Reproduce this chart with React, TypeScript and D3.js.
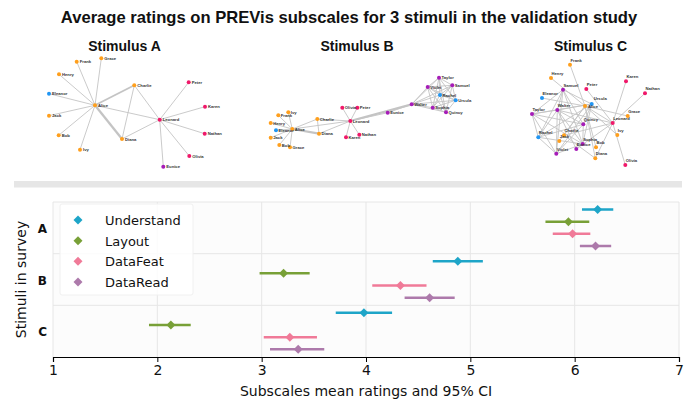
import React, { useRef, useEffect } from 'react';
import * as d3 from 'd3';

// ---- ratings ----
const stimuli = ['A', 'B', 'C'];
const subscales = ['Understand', 'Layout', 'DataFeat', 'DataRead'];
const xTicks = [1, 2, 3, 4, 5, 6, 7];

const understandMean = [6.22, 4.88, 3.98];
const understandLow = [6.07, 4.64, 3.71];
const understandHigh = [6.37, 5.12, 4.25];

const layoutMean = [5.94, 3.21, 2.13];
const layoutLow = [5.72, 2.98, 1.92];
const layoutHigh = [6.14, 3.46, 2.32];

const dataFeatMean = [5.98, 4.33, 3.27];
const dataFeatLow = [5.79, 4.06, 3.02];
const dataFeatHigh = [6.15, 4.58, 3.53];

const dataReadMean = [6.2, 4.61, 3.35];
const dataReadLow = [6.05, 4.37, 3.08];
const dataReadHigh = [6.35, 4.85, 3.6];

const subscaleColors = ['#1ea5c8', '#78a037', '#f07a98', '#ad7aab'];

// ---- the three stimulus networks: [name, layoutX, layoutY, group] ----
type NetNode = [string, number, number, string];
type NetEdge = [string, string, number];

const netANodes: NetNode[] = [
  ['Frank', 46.7, 11.7, 'o'], ['Grace', 71.3, 8.3, 'o'], ['Henry', 29, 24.3, 'o'],
  ['Eleanor', 19, 43.7, 'b'], ['Alice', 65, 55.3, 'o'], ['Jack', 19, 65.7, 'o'],
  ['Bob', 28.7, 85.3, 'o'], ['Ivy', 50, 99.7, 'o'], ['Charlie', 104.3, 35.3, 'o'],
  ['Diana', 92, 89, 'o'], ['Leonard', 129.7, 69.7, 'p'], ['Peter', 158.7, 32.3, 'p'],
  ['Karen', 175, 56.7, 'p'], ['Nathan', 174.7, 83.7, 'p'], ['Olivia', 159.3, 106, 'p'],
  ['Eunice', 133.3, 116.7, 'v'],
];
const netAEdges: NetEdge[] = [
  ['Alice', 'Frank', 1], ['Alice', 'Grace', 1], ['Alice', 'Henry', 1], ['Alice', 'Eleanor', 1],
  ['Alice', 'Jack', 1], ['Alice', 'Bob', 1], ['Alice', 'Ivy', 1], ['Alice', 'Charlie', 2],
  ['Alice', 'Diana', 2.5], ['Alice', 'Leonard', 1], ['Charlie', 'Diana', 1],
  ['Charlie', 'Leonard', 1], ['Diana', 'Leonard', 1], ['Leonard', 'Peter', 1],
  ['Leonard', 'Karen', 1], ['Leonard', 'Nathan', 1], ['Leonard', 'Olivia', 1],
  ['Leonard', 'Eunice', 1],
];

const netBNodes: NetNode[] = [
  ['Ivy', 28.3, 42.3, 'o'], ['Frank', 18.3, 45.3, 'o'], ['Henry', 10.7, 53, 'o'],
  ['Eleanor', 16, 60.3, 'b'], ['Alice', 32.3, 59, 'o'], ['Jack', 10.7, 67.7, 'o'],
  ['Bob', 19.3, 75, 'o'], ['Grace', 30, 77.3, 'o'], ['Charlie', 57.3, 49, 'o'],
  ['Diana', 59, 63.7, 'o'], ['Leonard', 90.3, 51, 'p'], ['Olivia', 82.3, 37.7, 'p'],
  ['Peter', 97.3, 37.7, 'p'], ['Karen', 86, 67.3, 'p'], ['Nathan', 99.3, 64.7, 'p'],
  ['Eunice', 127.7, 42.7, 'v'], ['Walter', 151.7, 34.3, 'v'], ['Taylor', 179, 7.7, 'v'],
  ['Violet', 167.7, 17, 'v'], ['Samuel', 192.3, 15.3, 'v'], ['Rachel', 180, 25, 'b'],
  ['Ursula', 195.7, 30.3, 'b'], ['Sophia', 172.7, 37.7, 'v'], ['Quincy', 186, 42.3, 'v'],
];
const clusterMembers = ['Walter', 'Taylor', 'Violet', 'Samuel', 'Rachel', 'Ursula', 'Sophia', 'Quincy'];
const netBEdges: NetEdge[] = [
  ['Alice', 'Ivy', 1], ['Alice', 'Frank', 1], ['Alice', 'Henry', 1], ['Alice', 'Eleanor', 1],
  ['Alice', 'Jack', 1], ['Alice', 'Bob', 1], ['Alice', 'Grace', 1], ['Alice', 'Charlie', 1],
  ['Alice', 'Diana', 2.5], ['Alice', 'Leonard', 1], ['Charlie', 'Diana', 1],
  ['Charlie', 'Leonard', 1], ['Diana', 'Leonard', 1], ['Leonard', 'Olivia', 1],
  ['Leonard', 'Peter', 1], ['Leonard', 'Karen', 1], ['Leonard', 'Nathan', 1],
  ['Leonard', 'Walter', 2.5], ['Leonard', 'Eunice', 1], ['Eunice', 'Walter', 1],
  ...clusterMembers.flatMap((a, i) => clusterMembers.slice(i + 1).map((b) => [a, b, 1] as NetEdge)),
];

const netCNodes: NetNode[] = [
  ['Frank', 45, 9.7, 'o'], ['Henry', 26, 23, 'o'], ['Samuel', 38, 34.7, 'v'],
  ['Peter', 61.3, 34, 'p'], ['Eleanor', 17, 43, 'b'], ['Ursula', 66.7, 49, 'b'],
  ['Alice', 60, 51, 'o'], ['Walter', 32.3, 55, 'v'], ['Taylor', 7, 59, 'v'],
  ['Karen', 101, 26.3, 'p'], ['Nathan', 120, 38.3, 'p'], ['Grace', 102.7, 61, 'o'],
  ['Leonard', 87.7, 68, 'p'], ['Quincy', 58.3, 69.3, 'v'], ['Ivy', 92.3, 80, 'o'],
  ['Rachel', 13.3, 82.3, 'b'], ['Charlie', 39, 80.3, 'o'], ['Jack', 34.3, 86, 'o'],
  ['Sophia', 57.7, 89, 'v'], ['Eunice', 51.3, 94, 'v'], ['Bob', 71, 92.3, 'o'],
  ['Violet', 31.3, 98.7, 'v'], ['Diana', 70.3, 103.3, 'o'], ['Olivia', 100.3, 110, 'p'],
];
const netCEdges: NetEdge[] = netBEdges.map(([a, b]) => [a, b, 1] as NetEdge);

const groupColors: Record<string, string> = {
  o: '#ff9f1c', p: '#f0186a', v: '#a61cb8', b: '#2196f3',
};

const App: React.FC = () => {
  const svgRef = useRef<SVGSVGElement | null>(null);

  useEffect(() => {
    const svg = d3.select(svgRef.current!);
    svg.selectAll('*').remove();

    const W = 700;
    const H = 400;
    svg.attr('width', W).attr('height', H);

    svg.append('rect').attr('width', W).attr('height', H).attr('fill', '#fff');

    svg.append('text')
      .attr('x', 349).attr('y', 23)
      .attr('text-anchor', 'middle')
      .attr('font-family', 'Liberation Sans, Arial, sans-serif')
      .attr('font-weight', 'bold')
      .attr('font-size', 16.6)
      .attr('fill', '#111')
      .text('Average ratings on PREVis subscales for 3 stimuli in the validation study');

    // ---- networks ----
    // label offsets; a few crowded labels in C get their own
    const labelShift: Record<string, [number, number]> = { Ursula: [2, -4.5], Alice: [3, 2] };
    const networks = [
      { title: 'Stimulus A', cx: 124.5, ox: 30, oy: 50, nodes: netANodes, edges: netAEdges, ldx: 3, ldy: 1.5, shift: {} },
      { title: 'Stimulus B', cx: 357, ox: 260, oy: 70, nodes: netBNodes, edges: netBEdges, ldx: 2.5, ldy: 1.5, shift: {} },
      { title: 'Stimulus C', cx: 590.5, ox: 525, oy: 55, nodes: netCNodes, edges: netCEdges, ldx: 0.5, ldy: -3, shift: labelShift },
    ];

    networks.forEach((net) => {
      svg.append('text')
        .attr('x', net.cx).attr('y', 50.5)
        .attr('text-anchor', 'middle')
        .attr('font-family', 'Liberation Sans, Arial, sans-serif')
        .attr('font-weight', 'bold')
        .attr('font-size', 14)
        .attr('fill', '#111')
        .text(net.title);

      const nx = d3.scaleLinear().domain([0, 200]).range([net.ox, net.ox + 200]);
      const ny = d3.scaleLinear().domain([0, 120]).range([net.oy, net.oy + 120]);
      const byName = new Map(net.nodes.map((n) => [n[0], n]));
      const shift = net.shift as Record<string, [number, number]>;
      const g = svg.append('g');

      g.selectAll('line')
        .data(net.edges)
        .join('line')
        .attr('x1', (d) => nx(byName.get(d[0])![1]))
        .attr('y1', (d) => ny(byName.get(d[0])![2]))
        .attr('x2', (d) => nx(byName.get(d[1])![1]))
        .attr('y2', (d) => ny(byName.get(d[1])![2]))
        .attr('stroke', '#c4c4c4')
        .attr('stroke-width', (d) => d[2] * 0.9);

      g.selectAll('circle')
        .data(net.nodes)
        .join('circle')
        .attr('cx', (d) => nx(d[1]))
        .attr('cy', (d) => ny(d[2]))
        .attr('r', 2)
        .attr('fill', (d) => groupColors[d[3]]);

      g.selectAll('text')
        .data(net.nodes)
        .join('text')
        .attr('x', (d) => nx(d[1]) + (shift[d[0]] ? shift[d[0]][0] : net.ldx))
        .attr('y', (d) => ny(d[2]) + (shift[d[0]] ? shift[d[0]][1] : net.ldy))
        .attr('font-family', 'Liberation Sans, Arial, sans-serif')
        .attr('font-weight', 'bold')
        .attr('font-size', 4.2)
        .attr('fill', '#333')
        .text((d) => d[0]);
    });

    // separator band
    svg.append('rect')
      .attr('x', 14).attr('y', 181).attr('width', 668).attr('height', 6.5)
      .attr('fill', '#e6e6e6');

    // ---- dot plot ----
    const left = 53;
    const right = 679;
    const top = 202;
    const bottom = 357;

    const x = d3.scaleLinear().domain([1, 7]).range([left, right]);
    const y = d3.scaleBand<string>().domain(stimuli).range([top, bottom]);
    const yInner = d3.scalePoint<string>().domain(subscales).range([7.5, 44]);

    svg.append('rect')
      .attr('x', left).attr('y', top).attr('width', right - left).attr('height', bottom - top)
      .attr('fill', '#fcfcfc');

    svg.append('g')
      .selectAll('line')
      .data(xTicks)
      .join('line')
      .attr('x1', (d) => x(d)).attr('x2', (d) => x(d))
      .attr('y1', top).attr('y2', bottom)
      .attr('stroke', '#e6e6e6').attr('stroke-width', 1);

    svg.append('g')
      .selectAll('line')
      .data(stimuli)
      .join('line')
      .attr('x1', left).attr('x2', right)
      .attr('y1', (d) => y(d)!).attr('y2', (d) => y(d)!)
      .attr('stroke', '#e6e6e6').attr('stroke-width', 1);

    const xAxis = svg.append('g')
      .attr('transform', `translate(0,${bottom})`)
      .call(d3.axisBottom(x).tickValues(xTicks).tickFormat(d3.format('d')).tickSize(5).tickPadding(3));
    xAxis.select('.domain').attr('stroke', '#000').attr('stroke-width', 1.2);
    xAxis.selectAll('.tick line').attr('stroke', '#000');
    xAxis.selectAll('.tick text')
      .attr('font-family', 'DejaVu Sans, sans-serif')
      .attr('font-size', 14)
      .attr('fill', '#111');

    svg.append('g')
      .selectAll('text')
      .data(stimuli)
      .join('text')
      .attr('x', 47)
      .attr('y', (d) => y(d)! + y.bandwidth() / 2 + 5)
      .attr('text-anchor', 'end')
      .attr('font-family', 'DejaVu Sans, sans-serif')
      .attr('font-weight', 'bold')
      .attr('font-size', 12)
      .attr('fill', '#111')
      .text((d) => d);

    svg.append('text')
      .attr('transform', 'translate(26,279.5) rotate(-90)')
      .attr('text-anchor', 'middle')
      .attr('font-family', 'DejaVu Sans, sans-serif')
      .attr('font-size', 14)
      .attr('fill', '#111')
      .text('Stimuli in survey');

    svg.append('text')
      .attr('x', 366).attr('y', 396)
      .attr('text-anchor', 'middle')
      .attr('font-family', 'DejaVu Sans, sans-serif')
      .attr('font-size', 14)
      .attr('fill', '#111')
      .text('Subscales mean ratings and 95% CI');

    const series = [
      { mean: understandMean, low: understandLow, high: understandHigh },
      { mean: layoutMean, low: layoutLow, high: layoutHigh },
      { mean: dataFeatMean, low: dataFeatLow, high: dataFeatHigh },
      { mean: dataReadMean, low: dataReadLow, high: dataReadHigh },
    ];

    const points = series.flatMap((s, si) =>
      stimuli.map((st, ci) => ({
        stim: st, sub: subscales[si], color: subscaleColors[si],
        mean: s.mean[ci], low: s.low[ci], high: s.high[ci],
      })),
    );

    // matplotlib-style "D" marker: a square turned 45 degrees
    const diamond = d3.symbol().type(d3.symbolSquare).size(40)();

    const pg = svg.append('g');
    pg.selectAll('line')
      .data(points)
      .join('line')
      .attr('x1', (d) => x(d.low)).attr('x2', (d) => x(d.high))
      .attr('y1', (d) => y(d.stim)! + yInner(d.sub)!)
      .attr('y2', (d) => y(d.stim)! + yInner(d.sub)!)
      .attr('stroke', (d) => d.color)
      .attr('stroke-width', 2.5);

    pg.selectAll('path')
      .data(points)
      .join('path')
      .attr('d', diamond)
      .attr('transform', (d) => `translate(${x(d.mean)},${y(d.stim)! + yInner(d.sub)!}) rotate(45)`)
      .attr('fill', (d) => d.color);

    // legend
    const lg = svg.append('g');
    lg.append('rect')
      .attr('x', 60).attr('y', 204).attr('width', 133).attr('height', 91)
      .attr('rx', 2)
      .attr('fill', '#fff').attr('fill-opacity', 0.85)
      .attr('stroke', '#f0f0f0');
    const ly = d3.scalePoint<string>().domain(subscales).range([220, 282]);
    lg.selectAll('path')
      .data(subscales)
      .join('path')
      .attr('d', diamond)
      .attr('transform', (d) => `translate(78,${ly(d)}) rotate(45)`)
      .attr('fill', (d, i) => subscaleColors[i]);
    lg.selectAll('text')
      .data(subscales)
      .join('text')
      .attr('x', 105)
      .attr('y', (d) => ly(d)! + 5)
      .attr('font-family', 'DejaVu Sans, sans-serif')
      .attr('font-size', 13)
      .attr('fill', '#111')
      .text((d) => d);
  }, []);

  return <svg ref={svgRef} style={{ position: 'absolute', left: 0, top: 0, display: 'block' }}></svg>;
};

export default App;
